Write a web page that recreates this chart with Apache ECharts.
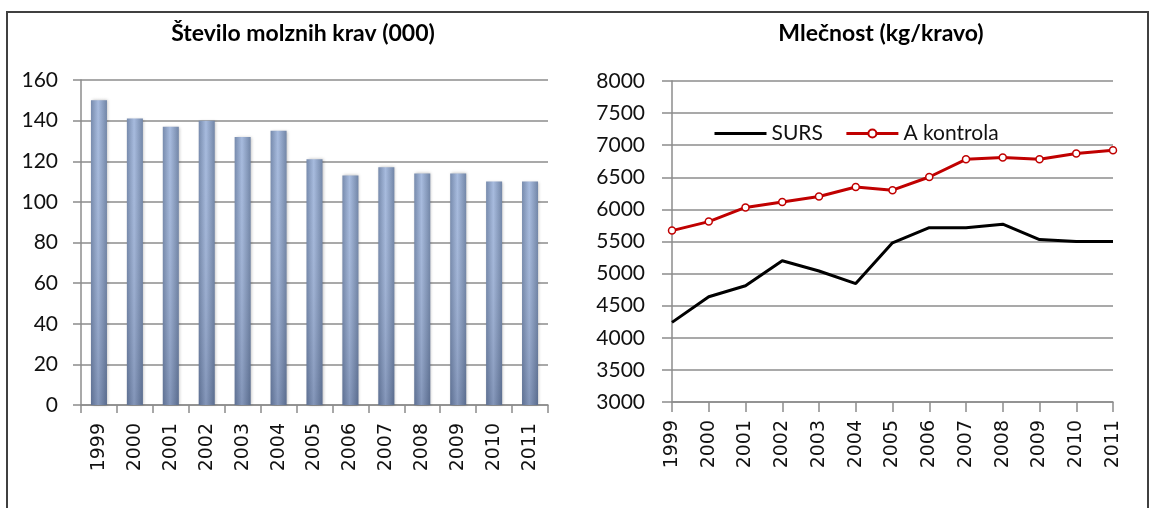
<!DOCTYPE html>
<html>
<head>
<meta charset="utf-8">
<script src="https://cdn.jsdelivr.net/npm/echarts@6/dist/echarts.min.js"></script>
<style>
html,body{margin:0;padding:0;background:#fff;}
#c{width:1154px;height:508px;}
</style>
</head>
<body>
<div id="c"></div>
<script>
const years = ['1999','2000','2001','2002','2003','2004','2005','2006','2007','2008','2009','2010','2011'];
const cows = [150, 141, 137, 140, 132, 135, 121, 113, 117, 114, 114, 110, 110];
const surs = [4240, 4640, 4810, 5200, 5040, 4845, 5480, 5715, 5715, 5770, 5530, 5500, 5500];
const aKontrola = [5670, 5810, 6030, 6115, 6200, 6350, 6300, 6505, 6780, 6810, 6780, 6870, 6920];
const leftTicks = [0, 20, 40, 60, 80, 100, 120, 140, 160];
const rightTicks = [3000, 3500, 4000, 4500, 5000, 5500, 6000, 6500, 7000, 7500, 8000];
const titleLeft = 'Število molznih krav (000)';
const titleRight = 'Mlečnost (kg/kravo)';

const chart = echarts.init(document.getElementById('c'), null, {renderer: 'canvas'});
const gridColor = '#8c8c8c';
const labelFont = {fontFamily: 'Lato', fontSize: 21, color: '#111'};
const xFont = {fontFamily: 'DejaVu Sans', fontSize: 19, color: '#111'};
const plain = v => String(v);

chart.setOption({
  animation: false,
  backgroundColor: '#fff',
  title: [
    {text: titleLeft, left: 298, top: 17, textAlign: 'center',
     textStyle: {fontFamily: 'Lato', fontWeight: 'bold', fontSize: 23, color: '#000'}},
    {text: titleRight, left: 876, top: 17, textAlign: 'center',
     textStyle: {fontFamily: 'Lato', fontWeight: 'bold', fontSize: 23, color: '#000'}}
  ],
  legend: {
    left: 708, top: 118, itemWidth: 52, itemHeight: 10, itemGap: 22,
    lineStyle: {width: 3},
    textStyle: {fontFamily: 'Lato', fontSize: 21, color: '#111'},
    data: [
      {name: 'SURS', itemStyle: {color: 'rgba(0,0,0,0)', borderWidth: 0}},
      'A kontrola'
    ]
  },
  graphic: [
    {type: 'rect', shape: {x: 7, y: 12, width: 1141, height: 520},
     style: {fill: 'none', stroke: '#404040', lineWidth: 2}, silent: true}
  ],
  grid: [
    {left: 81, top: 80, width: 467, height: 325},
    {left: 672, top: 81, width: 441, height: 321}
  ],
  xAxis: [
    {type: 'category', gridIndex: 0, data: years, boundaryGap: true,
     axisLine: {lineStyle: {color: gridColor, width: 1.5}},
     axisTick: {show: true, length: 8, lineStyle: {color: gridColor, width: 1.5}},
     axisLabel: Object.assign({rotate: 90, margin: 18, interval: 0}, xFont)},
    {type: 'category', gridIndex: 1, data: years, boundaryGap: false,
     axisLine: {lineStyle: {color: gridColor, width: 1.5}},
     axisTick: {show: true, length: 10, lineStyle: {color: gridColor, width: 1.5}},
     axisLabel: Object.assign({rotate: 90, margin: 18, interval: 0}, xFont)}
  ],
  yAxis: [
    {type: 'value', gridIndex: 0, min: leftTicks[0], max: leftTicks[leftTicks.length-1], interval: 20,
     axisLine: {show: true, lineStyle: {color: gridColor, width: 1.5}},
     axisTick: {show: true, length: 8, lineStyle: {color: gridColor, width: 1.5}},
     splitLine: {lineStyle: {color: gridColor, width: 1.5}},
     axisLabel: Object.assign({margin: 23, formatter: plain}, labelFont)},
    {type: 'value', gridIndex: 1, min: rightTicks[0], max: rightTicks[rightTicks.length-1], interval: 500,
     axisLine: {show: true, lineStyle: {color: gridColor, width: 1.5}},
     axisTick: {show: true, length: 10, lineStyle: {color: gridColor, width: 1.5}},
     splitLine: {lineStyle: {color: gridColor, width: 1.5}},
     axisLabel: Object.assign({margin: 27, formatter: plain}, labelFont)}
  ],
  series: [
    {type: 'bar', xAxisIndex: 0, yAxisIndex: 0, data: cows, barWidth: 16,
     itemStyle: {
       color: new echarts.graphic.LinearGradient(0, 0, 1, 0, [
         {offset: 0, color: '#6f84a8'},
         {offset: 0.45, color: '#a2b7dc'},
         {offset: 1, color: '#6a7fa2'}
       ]),
       shadowColor: 'rgba(0,0,0,0.25)', shadowBlur: 3, shadowOffsetX: 1
     }},
    {type: 'bar', xAxisIndex: 0, yAxisIndex: 0, data: cows, barWidth: 16, barGap: '-100%',
     silent: true,
     itemStyle: {
       color: new echarts.graphic.LinearGradient(0, 0, 0, 1, [
         {offset: 0, color: 'rgba(255,255,255,0.05)'},
         {offset: 1, color: 'rgba(40,50,80,0.25)'}
       ])
     }},
    {name: 'SURS', type: 'line', xAxisIndex: 1, yAxisIndex: 1, data: surs,
     symbol: 'none', lineStyle: {color: '#000', width: 3}, itemStyle: {color: '#000'}},
    {name: 'A kontrola', type: 'line', xAxisIndex: 1, yAxisIndex: 1, data: aKontrola,
     symbol: 'circle', symbolSize: 7, showAllSymbol: true,
     lineStyle: {color: '#c00000', width: 3},
     itemStyle: {color: '#fff', borderColor: '#c00000', borderWidth: 1.5}}
  ]
});
</script>
</body>
</html>
